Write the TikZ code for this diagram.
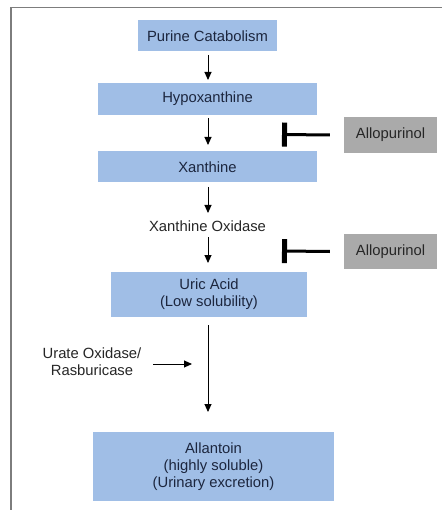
\documentclass[tikz,border=0pt]{standalone}
\usepackage{fontspec}
\setmainfont{Liberation Sans}
\usetikzlibrary{arrows.meta}
\definecolor{boxblue}{RGB}{160,190,230}
\definecolor{boxgray}{RGB}{170,170,170}
\definecolor{navy}{RGB}{28,38,62}
\definecolor{framegray}{RGB}{125,125,125}
\tikzset{
  bluebox/.style={fill=boxblue, draw=none, text=navy, align=center, inner sep=0pt,
    font=\fontsize{14.8}{17}\selectfont},
  graybox/.style={fill=boxgray, draw=none, text=black!85, align=center, inner sep=0pt,
    minimum width=93pt, font=\fontsize{14.8}{17}\selectfont},
  lbl/.style={text=black!85, align=center, inner sep=0pt, font=\fontsize{14.8}{17}\selectfont},
  arr/.style={line width=0.9pt, -{Triangle[width=7pt,length=8pt]}},
  inhib/.style={line width=3pt, -{Bar[width=24pt,line width=5pt]}},
}
\begin{document}
\begin{tikzpicture}[x=1pt,y=-1pt]
\useasboundingbox (0,0) rectangle (442,510);
\draw[framegray, line width=1.5pt] (11,510) -- (11,7.5) -- (442,7.5);

\node[bluebox, minimum width=139pt, minimum height=31pt] (pc) at (207.5,36) {Purine Catabolism};
\node[bluebox, minimum width=219pt, minimum height=32pt] (hx) at (207.5,99) {Hypoxanthine};
\node[bluebox, minimum width=219pt, minimum height=31pt] (xa) at (207.5,167) {Xanthine};
\node[lbl] (xo) at (207.5,226) {Xanthine Oxidase};
\node[bluebox, minimum width=196pt, minimum height=45pt] (ua) at (209,294.5) {Uric Acid\\(Low solubility)};
\node[bluebox, minimum width=241pt, minimum height=69pt] (al) at (213.5,466.5) {Allantoin\\(highly soluble)\\(Urinary excretion)};
\node[graybox, minimum height=36pt] (ap1) at (390.5,135) {Allopurinol};
\node[graybox, minimum height=35pt] (ap2) at (390.5,251.5) {Allopurinol};
\node[lbl] (uo) at (92,361.5) {Urate Oxidase/\\Rasburicase};

\coordinate (c1) at (208,55);
\coordinate (c2) at (208,80);
\coordinate (c3) at (208,118);
\coordinate (c4) at (208,145);
\coordinate (c5) at (208,187);
\coordinate (c6) at (208,213);
\coordinate (c7) at (208,237);
\coordinate (c8) at (208,263);
\coordinate (c9) at (208,325);
\coordinate (c10) at (208,412);
\coordinate (m1) at (153,364);
\coordinate (m2) at (192,364);
\coordinate (b1) at (282,134.5);
\coordinate (b2) at (282,251);

\draw[arr] (c1) -- (c2);
\draw[arr] (c3) -- (c4);
\draw[arr] (c5) -- (c6);
\draw[arr] (c7) -- (c8);
\draw[arr] (c9) -- (c10);
\draw[arr] (m1) -- (m2);
\draw[inhib] ([xshift=-14pt]ap1.west) -- (b1);
\draw[inhib] ([xshift=-14pt]ap2.west) -- (b2);
\end{tikzpicture}
\end{document}
